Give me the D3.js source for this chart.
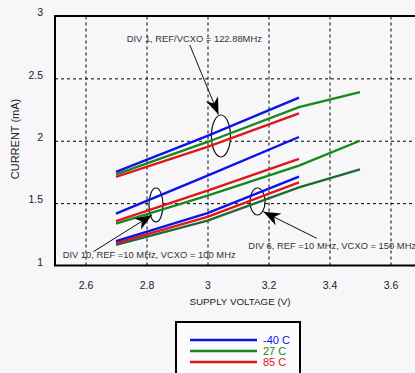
<!DOCTYPE html>
<html>
<head>
<meta charset="utf-8">
<script src="https://cdn.jsdelivr.net/npm/d3@7"></script>
<style>
  html, body { margin: 0; padding: 0; background: #f7f7f9; }
  svg { display: block; font-family: "Liberation Sans", Arial, sans-serif; }
</style>
</head>
<body>
<div id="chart"></div>
<script>
// supply voltage points (V)
const voltage = [2.7, 3.0, 3.3, 3.5];

// current (mA) per divider setting and temperature
const div1Cold = [1.75, 2.04, 2.345];
const div1Room = [1.73, 1.99, 2.27, 2.39];
const div1Hot = [1.71, 1.95, 2.22];

const div10Cold = [1.415, 1.72, 2.03];
const div10Room = [1.335, 1.56, 1.80, 2.0];
const div10Hot = [1.355, 1.60, 1.855];

const div6Cold = [1.195, 1.42, 1.712];
const div6Room = [1.165, 1.36, 1.627, 1.77];
const div6Hot = [1.18, 1.39, 1.667];

const xTicks = [2.6, 2.8, 3.0, 3.2, 3.4, 3.6];
const yTicks = [1, 1.5, 2, 2.5, 3];
const tempLabels = ['-40 C', '27 C', '85 C'];

const width = 415;
const height = 373;

const blue = '#0b12e6', green = '#15891f', red = '#e2141c', darkGreen = '#1f6a31';

const series = [
  { values: div1Room, color: green },
  { values: div1Hot, color: red },
  { values: div1Cold, color: blue },
  { values: div10Room, color: green },
  { values: div10Hot, color: red },
  { values: div10Cold, color: blue },
  { values: div6Room, color: darkGreen },
  { values: div6Hot, color: red },
  { values: div6Cold, color: blue }
];

// annotations in data coordinates
const notes = [
  { text: 'DIV 1, REF/VCXO = 122.88MHz', tx: 2.735, ty: 2.79,
    from: [2.942, 2.767], to: [3.036, 2.21], ell: [3.044, 2.038], rx: 9.5, ry: 21 },
  { text: 'DIV 10, REF =10 MHz, VCXO = 100 MHz', tx: 2.525, ty: 1.06,
    from: [2.626, 1.111], to: [2.818, 1.405], ell: [2.831, 1.485], rx: 7, ry: 17 },
  { text: 'DIV 6, REF =10 MHz, VCXO = 150 MHz', tx: 3.134, ty: 1.136,
    from: [3.358, 1.218], to: [3.183, 1.431], ell: [3.164, 1.513], rx: 7.5, ry: 13.5 }
];

const svg = d3.select('#chart').append('svg')
  .attr('width', width)
  .attr('height', height);

svg.append('rect').attr('width', width).attr('height', height).attr('fill', '#f7f7f9');

const x = d3.scaleLinear().domain([2.5, 3.7]).range([55, 421]);
const y = d3.scaleLinear().domain([1, 3]).range([265.5, 16]);

const plotTop = y(3), plotBottom = y(1), plotLeft = x(2.5), plotRight = x(3.7);

// dashed grid
svg.append('g')
  .attr('transform', `translate(0,${plotBottom})`)
  .call(d3.axisBottom(x).tickValues(xTicks).tickSize(-(plotBottom - plotTop)).tickFormat(''))
  .call(g => g.select('.domain').remove())
  .selectAll('line').attr('stroke', '#000').attr('stroke-dasharray', '3,3');

svg.append('g')
  .attr('transform', `translate(${plotLeft},0)`)
  .call(d3.axisLeft(y).tickValues([1.5, 2, 2.5]).tickSize(-(plotRight - plotLeft)).tickFormat(''))
  .call(g => g.select('.domain').remove())
  .selectAll('line').attr('stroke', '#000').attr('stroke-dasharray', '3,3');

// ellipses behind the curves
svg.append('g').selectAll('ellipse')
  .data(notes)
  .join('ellipse')
  .attr('cx', d => x(d.ell[0]))
  .attr('cy', d => y(d.ell[1]))
  .attr('rx', d => d.rx)
  .attr('ry', d => d.ry)
  .attr('fill', '#fff')
  .attr('stroke', '#111')
  .attr('stroke-width', 1.2);

// curves
const line = d3.line()
  .defined(d => d != null)
  .x((d, i) => x(voltage[i]))
  .y(d => y(d));

svg.append('g').selectAll('path')
  .data(series)
  .join('path')
  .attr('d', d => line(d.values))
  .attr('fill', 'none')
  .attr('stroke', d => d.color)
  .attr('stroke-width', 2.4);

// arrows
svg.append('defs').append('marker')
  .attr('id', 'head')
  .attr('markerUnits', 'userSpaceOnUse')
  .attr('viewBox', '-18 -7 19 14')
  .attr('markerWidth', 19)
  .attr('markerHeight', 14)
  .attr('refX', 0)
  .attr('refY', 0)
  .attr('orient', 'auto')
  .append('path')
  .attr('d', 'M0,0 L-17,-6.5 L-12,0 L-17,6.5 Z')
  .attr('fill', '#000');

svg.append('g').selectAll('line')
  .data(notes)
  .join('line')
  .attr('x1', d => x(d.from[0]))
  .attr('y1', d => y(d.from[1]))
  .attr('x2', d => x(d.to[0]))
  .attr('y2', d => y(d.to[1]))
  .attr('stroke', '#111')
  .attr('stroke-width', 1)
  .attr('marker-end', 'url(#head)');

svg.append('g').selectAll('text')
  .data(notes)
  .join('text')
  .attr('x', d => x(d.tx))
  .attr('y', d => y(d.ty))
  .attr('font-size', 9.4)
  .attr('fill', '#333')
  .text(d => d.text);

// axes labels
svg.append('g')
  .attr('transform', `translate(${plotLeft},0)`)
  .call(d3.axisLeft(y).tickValues(yTicks).tickSize(0).tickPadding(12).tickFormat(d3.format('')))
  .call(g => g.select('.domain').remove())
  .selectAll('text')
  .attr('dy', '-0.03em')
  .attr('font-size', 10.5)
  .attr('font-family', '"Liberation Sans", Arial, sans-serif')
  .attr('fill', '#222');

svg.append('g')
  .attr('transform', `translate(0,${plotBottom})`)
  .call(d3.axisBottom(x).tickValues(xTicks).tickSize(0).tickPadding(16).tickFormat(d3.format('')))
  .call(g => g.select('.domain').remove())
  .selectAll('text')
  .attr('font-size', 10.5)
  .attr('font-family', '"Liberation Sans", Arial, sans-serif')
  .attr('fill', '#222');

svg.append('text')
  .attr('x', 240)
  .attr('y', 305)
  .attr('text-anchor', 'middle')
  .attr('font-size', 9.8)
  .attr('fill', '#222')
  .text('SUPPLY VOLTAGE (V)');

svg.append('text')
  .attr('transform', 'translate(18.5,139) rotate(-90)')
  .attr('text-anchor', 'middle')
  .attr('font-size', 11)
  .attr('fill', '#222')
  .text('CURRENT (mA)');

// frame
svg.append('path')
  .attr('d', `M${plotRight},${plotTop} H${plotLeft} V${plotBottom} H${plotRight}`)
  .attr('fill', 'none')
  .attr('stroke', '#000')
  .attr('stroke-width', 2);

// legend
const legend = svg.append('g').attr('transform', 'translate(176,322)');
legend.append('rect')
  .attr('width', 124)
  .attr('height', 70)
  .attr('fill', '#fbfbfc')
  .attr('stroke', '#000')
  .attr('stroke-width', 2);

const legendColors = [blue, green, red];
const rows = legend.selectAll('g.row')
  .data(tempLabels)
  .join('g')
  .attr('class', 'row')
  .attr('transform', (d, i) => `translate(0,${18 + i * 11})`);
rows.append('line')
  .attr('x1', 14).attr('x2', 81)
  .attr('stroke', (d, i) => legendColors[i])
  .attr('stroke-width', 2.4);
rows.append('text')
  .attr('x', 87)
  .attr('dy', '0.36em')
  .attr('font-size', 11)
  .attr('fill', (d, i) => legendColors[i])
  .text(d => d);
</script>
</body>
</html>
